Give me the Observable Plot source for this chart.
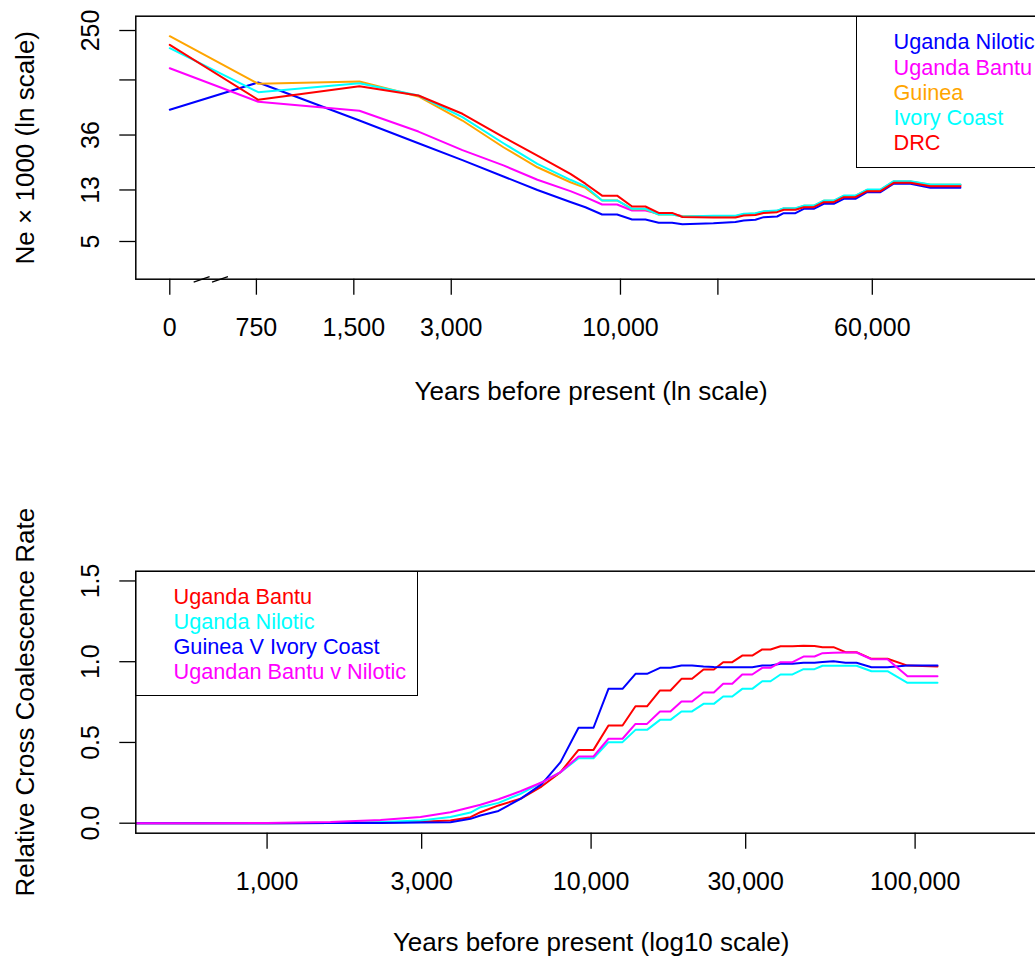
<!DOCTYPE html>
<html>
<head>
<meta charset="utf-8">
<script src="https://cdn.jsdelivr.net/npm/d3@7"></script>
<script src="https://cdn.jsdelivr.net/npm/@observablehq/plot@0.6"></script>
<style>
  html, body { margin: 0; padding: 0; background: #fff; overflow: hidden; width: 1035px; height: 958px; }
  #wrap { position: relative; width: 1060px; height: 958px; font-family: "Liberation Sans", Arial, Helvetica, sans-serif; }
  .panel { position: absolute; left: 0; }
  .legend { position: absolute; box-sizing: border-box; border: 1.5px solid #000; font-size: 21.7px; line-height: 25.2px; white-space: nowrap; overflow: hidden; }
</style>
</head>
<body>
<div id="wrap">
  <div id="p1" class="panel" style="top:0"></div>
  <div id="p2" class="panel" style="top:430px"></div>
  <div id="leg1" class="legend" style="left:856px; top:15.7px; width:190px; height:152px; padding-left:36.5px; padding-top:12.8px;"></div>
  <div id="leg2" class="legend" style="left:135.3px; top:570.7px; width:283px; height:125.3px; padding-left:37.2px; padding-top:12.2px;"></div>
</div>
<script>
const FONT = '"Liberation Sans", Arial, Helvetica, sans-serif';

// ---------- Top panel: effective population size (Ne x 1000) ----------
// Years before present (0 is drawn on a broken log axis)
const neYears = [0, 760, 1561, 2375, 3248, 4349, 5538, 7003, 7793, 8775, 9764, 10864, 11942, 13127, 14440, 15538, 19373, 22658, 24038, 26123, 27698, 30480, 31943, 34725, 36840, 39548, 42465, 45600, 48960, 53205, 57825, 63563, 69870, 78698, 90713, 112320];
const neUgandaNilotic = [57.5, 95.4, 47.1, 30.9, 22.6, 16.7, 13.0, 10.4, 9.44, 8.25, 8.25, 7.52, 7.52, 7.08, 7.08, 6.89, 7.02, 7.18, 7.38, 7.48, 7.85, 7.95, 8.45, 8.45, 9.17, 9.17, 10.06, 10.06, 11.04, 11.04, 12.47, 12.47, 14.58, 14.58, 13.53, 13.53];
const neUgandaBantu = [124.3, 66.7, 56.4, 38.4, 27.2, 20.5, 15.7, 12.71, 11.37, 9.93, 9.93, 8.88, 8.88, 8.36, 8.36, 8.0, 7.95, 7.95, 8.25, 8.35, 8.65, 8.8, 9.18, 9.18, 9.62, 9.62, 10.55, 10.55, 11.6, 11.6, 12.95, 12.95, 15.15, 15.15, 14.2, 14.2];
const neGuinea = [224.9, 93.1, 97.1, 73.6, 47.1, 28.7, 19.8, 15.0, 13.5, 10.7, 10.7, 9.1, 9.1, 8.25, 8.25, 8.0, 8.0, 8.0, 8.3, 8.4, 8.7, 8.82, 9.22, 9.22, 9.68, 9.68, 10.62, 10.62, 11.65, 11.65, 13.02, 13.02, 15.22, 15.22, 14.3, 14.3];
const neIvoryCoast = [180.1, 79.7, 94.1, 74.9, 50.1, 30.9, 21.1, 15.7, 13.9, 10.7, 10.7, 9.17, 9.17, 8.25, 8.25, 7.95, 8.05, 8.05, 8.35, 8.43, 8.75, 8.87, 9.27, 9.27, 9.73, 9.73, 10.67, 10.67, 11.71, 11.71, 13.09, 13.09, 15.3, 15.3, 14.36, 14.36];
const neDRC = [191.8, 69.2, 89.0, 74.9, 53.4, 34.6, 24.6, 17.5, 14.6, 11.7, 11.7, 9.57, 9.57, 8.49, 8.49, 7.88, 7.81, 7.81, 8.10, 8.18, 8.49, 8.61, 9.00, 9.00, 9.44, 9.44, 10.36, 10.36, 11.37, 11.37, 12.71, 12.71, 14.85, 14.85, 13.94, 13.94];

const neNames  = ["Uganda Nilotic", "Uganda Bantu", "Guinea", "Ivory Coast", "DRC"];
const neColors = ["blue", "magenta", "orange", "cyan", "red"];
const neValues = [neUgandaNilotic, neUgandaBantu, neGuinea, neIvoryCoast, neDRC];

const neXTicks  = [0, 750, 1500, 3000, 10000, 20000, 60000];
const neXLabels = ["0", "750", "1,500", "3,000", "10,000", "", "60,000"];
const neYTicks  = [5, 13, 36, 100, 250];
const neYLabels = ["5", "13", "36", "", "250"];
const ZERO_AT = 405;            // where "0" sits on the broken ln axis
const axisBreak = [480, 547];   // start of the two break slashes (years)

// ---------- Bottom panel: relative cross coalescence rate ----------
const rccYears = [395, 623, 1000, 1569, 2239, 2975, 3681, 4244, 4556, 5179, 6054, 7030, 8048, 9146, 10172, 11314, 12502, 13710, 14880, 16320, 17580, 19010, 20490, 22230, 23920, 25570, 27270, 29270, 31430, 33750, 35790, 38420, 41840, 45250, 48920, 51790, 55990, 60990, 65940, 73350, 82180, 94740, 117250];
const rccUgandaBantu = [0, 0, 0, 0.001, 0.004, 0.009, 0.017, 0.037, 0.068, 0.110, 0.151, 0.227, 0.316, 0.454, 0.454, 0.605, 0.605, 0.724, 0.724, 0.822, 0.822, 0.894, 0.894, 0.952, 0.952, 0.997, 0.997, 1.038, 1.038, 1.076, 1.076, 1.096, 1.096, 1.099, 1.097, 1.090, 1.090, 1.059, 1.059, 1.018, 1.018, 0.976, 0.970];
const rccUgandaNilotic = [0, 0, 0, 0.002, 0.007, 0.017, 0.038, 0.066, 0.099, 0.126, 0.182, 0.252, 0.316, 0.402, 0.402, 0.502, 0.502, 0.578, 0.578, 0.640, 0.640, 0.692, 0.692, 0.739, 0.739, 0.785, 0.785, 0.832, 0.832, 0.879, 0.879, 0.921, 0.921, 0.954, 0.954, 0.975, 0.975, 0.975, 0.975, 0.941, 0.941, 0.869, 0.869];
const rccGuineaIvory = [0, 0, 0, 0.001, 0.002, 0.004, 0.006, 0.027, 0.048, 0.076, 0.151, 0.240, 0.378, 0.591, 0.591, 0.832, 0.832, 0.925, 0.925, 0.962, 0.962, 0.976, 0.976, 0.970, 0.967, 0.966, 0.966, 0.966, 0.966, 0.976, 0.976, 0.987, 0.987, 0.993, 0.993, 0.998, 1.003, 0.993, 0.993, 0.966, 0.966, 0.976, 0.976];
const rccBantuNilotic = [0, 0, 0.001, 0.007, 0.020, 0.038, 0.068, 0.099, 0.114, 0.148, 0.198, 0.252, 0.316, 0.413, 0.413, 0.523, 0.523, 0.615, 0.615, 0.692, 0.692, 0.754, 0.754, 0.809, 0.809, 0.863, 0.863, 0.921, 0.921, 0.962, 0.962, 0.997, 0.997, 1.032, 1.032, 1.053, 1.055, 1.057, 1.057, 1.015, 1.015, 0.910, 0.910];

const rccNames  = ["Uganda Bantu", "Uganda Nilotic", "Guinea V Ivory Coast", "Ugandan Bantu v Nilotic"];
const rccColors = ["red", "cyan", "blue", "magenta"];
const rccValues = [rccUgandaBantu, rccUgandaNilotic, rccGuineaIvory, rccBantuNilotic];

const rccXTicks = [1000, 3000, 10000, 30000, 100000];
const rccYTicks = [0, 0.5, 1.0, 1.5];

// ---------- helpers ----------
const xPos = v => (v === 0 ? ZERO_AT : v);
const toRows = (years, vals) => years.map((yr, i) => ({x: xPos(yr), y: vals[i]}));
const fmtComma = d3.format(",");
const fmt1 = d3.format(".1f");

// ---------- Top plot ----------
const neYDomain = [2.485, 326];
const neXLabelMap = new Map(neXTicks.map((t, i) => [xPos(t), neXLabels[i]]));
const neYLabelMap = new Map(neYTicks.map((t, i) => [t, neYLabels[i]]));

const topPlot = Plot.plot({
  width: 1060, height: 430,
  marginLeft: 135.3, marginRight: 14, marginTop: 15.7, marginBottom: 151.3,
  style: {fontFamily: FONT, fontSize: "25px", background: "white", overflow: "visible"},
  x: {type: "log", domain: [318, 207200], label: null},
  y: {type: "log", domain: neYDomain, label: null},
  marks: [
    ...neValues.map((vals, k) => Plot.line(toRows(neYears, vals), {x: "x", y: "y", stroke: neColors[k], strokeWidth: 2})),
    Plot.frame({stroke: "black", strokeWidth: 1.5}),
    Plot.link(axisBreak, {x1: d => d, x2: d => d * 1.12, y1: () => neYDomain[0] * 0.946, y2: () => neYDomain[0] * 1.05, stroke: "black", strokeWidth: 1.3}),
    Plot.axisX(neXTicks.map(xPos), {anchor: "bottom", label: null, tickSize: 16, tickPadding: 23.5, strokeWidth: 1.3, fontSize: 25, text: d => neXLabelMap.get(d)}),
    Plot.axisY(neYTicks, {anchor: "left", label: null, tickSize: 16, tickPadding: 21, tickRotate: -90, strokeWidth: 1.3, fontSize: 25, text: d => neYLabelMap.get(d)}),
    Plot.text(["Years before present (ln scale)"], {frameAnchor: "bottom", dy: 120.5, textAnchor: "middle", lineAnchor: "bottom", fontSize: 26, text: d => d}),
    Plot.text(["Ne \u00d7 1000 (ln scale)"], {frameAnchor: "left", dx: -101.5, rotate: -90, textAnchor: "middle", lineAnchor: "bottom", fontSize: 26, text: d => d})
  ]
});
document.getElementById("p1").appendChild(topPlot);

// ---------- Bottom plot ----------
const bottomPlot = Plot.plot({
  width: 1060, height: 528,
  marginLeft: 135.3, marginRight: 14, marginTop: 140.7, marginBottom: 125.3,
  style: {fontFamily: FONT, fontSize: "25px", background: "white", overflow: "visible"},
  x: {type: "log", domain: [393.4, 254400], label: null},
  y: {domain: [-0.0619, 1.5604], label: null},
  marks: [
    ...rccValues.map((vals, k) => Plot.line(toRows(rccYears, vals), {x: "x", y: "y", stroke: rccColors[k], strokeWidth: 2})),
    Plot.frame({stroke: "black", strokeWidth: 1.5}),
    Plot.axisX(rccXTicks, {anchor: "bottom", label: null, tickSize: 16, tickPadding: 23.5, strokeWidth: 1.3, fontSize: 25, text: d => fmtComma(d)}),
    Plot.axisY(rccYTicks, {anchor: "left", label: null, tickSize: 16, tickPadding: 21, tickRotate: -90, strokeWidth: 1.3, fontSize: 25, text: d => fmt1(d)}),
    Plot.text(["Years before present (log10 scale)"], {frameAnchor: "bottom", dy: 118, textAnchor: "middle", lineAnchor: "bottom", fontSize: 26, text: d => d}),
    Plot.text(["Relative Cross Coalescence Rate"], {frameAnchor: "left", dx: -101.5, rotate: -90, textAnchor: "middle", lineAnchor: "bottom", fontSize: 26, text: d => d})
  ]
});
document.getElementById("p2").appendChild(bottomPlot);

// ---------- Legends ----------
function fillLegend(id, names, colors) {
  const el = document.getElementById(id);
  names.forEach((n, i) => {
    const d = document.createElement("div");
    d.textContent = n;
    d.style.color = colors[i];
    el.appendChild(d);
  });
}
fillLegend("leg1", neNames, neColors);
fillLegend("leg2", rccNames, rccColors);
</script>
</body>
</html>
